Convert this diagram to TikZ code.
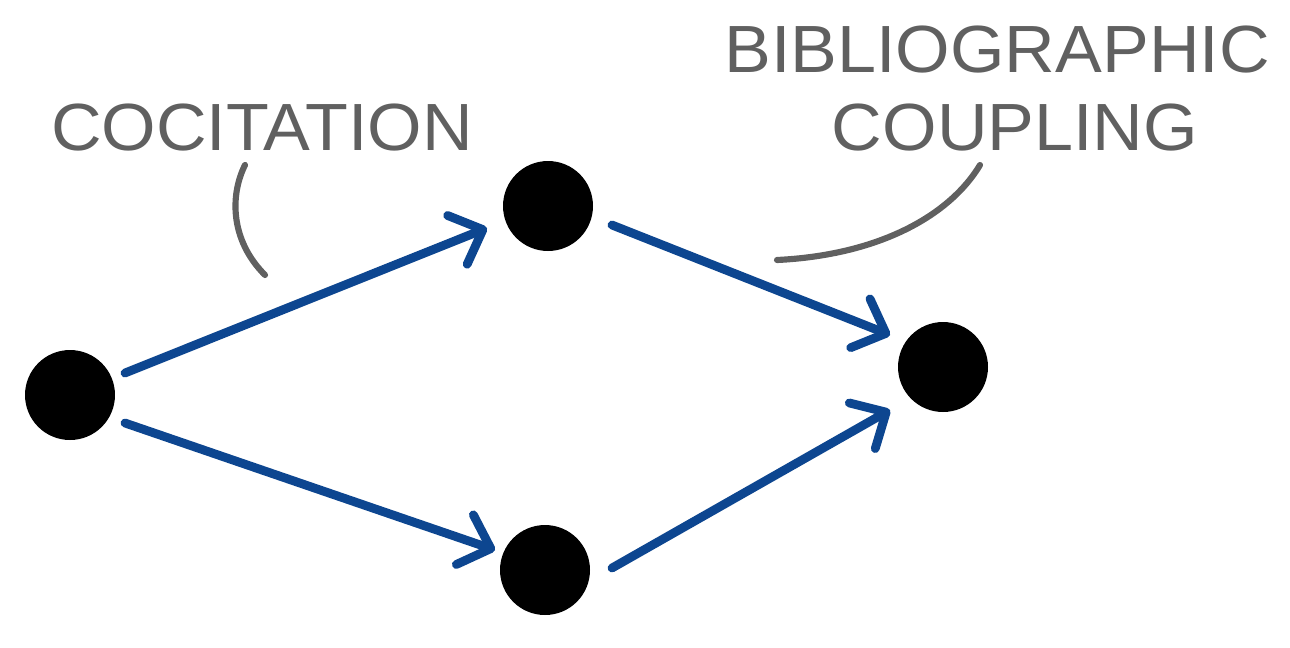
\documentclass[tikz,border=0pt]{standalone}
\usepackage{fontspec}
\setmainfont{Liberation Sans}
\usetikzlibrary{arrows.meta}
\definecolor{arr}{HTML}{0D4690}
\definecolor{lab}{HTML}{606060}
\begin{document}
\begin{tikzpicture}[x=0.02cm,y=-0.02cm,
  dot/.style={circle,fill=black,minimum size=1.8cm,inner sep=0pt},
  link/.style={draw=arr,line width=5pt,line cap=round,-{Straight Barb[length=0.55cm,width=1.05cm,line cap=round,round]}},
  lead/.style={draw=lab,line width=3.5pt,line cap=round},
  txt/.style={text=lab,font=\fontsize{38}{40}\selectfont,inner sep=0pt}]
\useasboundingbox (0,0) rectangle (1290,647);
\node[dot] (a) at (70,395) {};
\node[dot] (b) at (548,206) {};
\node[dot] (c) at (545,570) {};
\node[dot] (d) at (943,367) {};
\draw[link] (a) ++(55,-22) coordinate (a1) -- (487,228) coordinate (b0);
\draw[link] (a) ++(55,28) coordinate (a2) -- (495,550) coordinate (c0);
\draw[link] (b) ++(64,19) coordinate (b1) -- (890,335) coordinate (d0);
\draw[link] (c) ++(67,-2) coordinate (c1) -- (890,410) coordinate (d1);
\node[txt,xscale=1.05] (t1) at (262,128) {COCITATION};
\node[txt,xscale=1.05] (t2) at (997,50) {BIBLIOGRAPHIC};
\node[txt,xscale=1.05] (t3) at (1015,128) {COUPLING};
\coordinate (l1a) at (265,275);
\coordinate (l1b) at (245,165);
\draw[lead] (l1a) .. controls (230,240) and (230,195) .. (l1b);
\coordinate (l2a) at (777,260);
\coordinate (l2b) at (980,165);
\draw[lead] (l2a) .. controls (880,255) and (950,215) .. (l2b);
\end{tikzpicture}
\end{document}
